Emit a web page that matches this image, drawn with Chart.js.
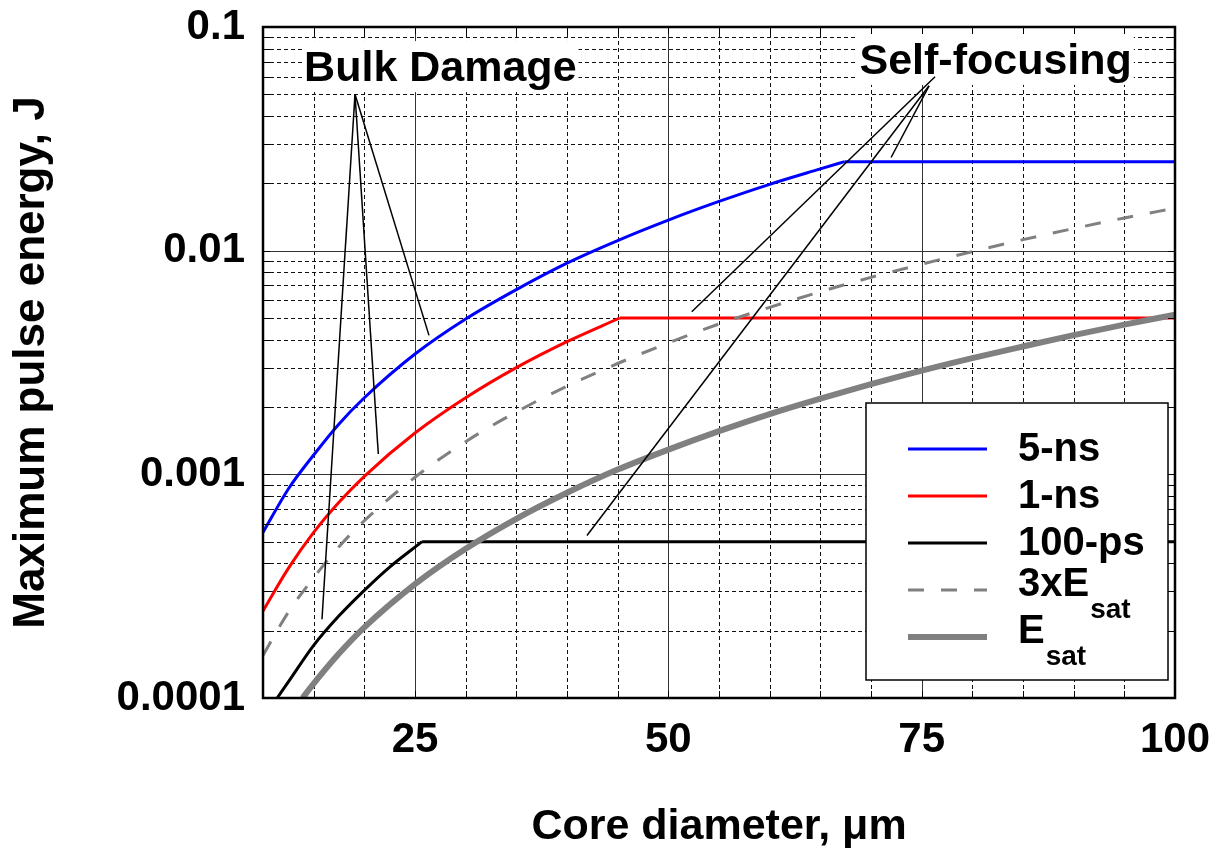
<!DOCTYPE html>
<html>
<head>
<meta charset="utf-8">
<script src="https://cdn.jsdelivr.net/npm/chart.js@4/dist/chart.umd.min.js"></script>
<style>
  html, body { margin: 0; padding: 0; background: #ffffff; }
  canvas { display: block; }
</style>
</head>
<body>
<canvas id="chart" width="1223" height="855"></canvas>
<script>
// ---- data: maximum pulse energy (J) versus core diameter (um) ----
// each limit rises with core size, then stays flat from its break point on
const diameter5ns     = [10, 12.5, 15, 17.5, 20, 25, 30, 35, 40, 45, 50, 55, 60, 65, 67.4];
const energy5ns       = [5.5e-4, 8.6e-4, 1.22e-3, 1.68e-3, 2.2e-3, 3.45e-3, 4.95e-3, 6.7e-3, 8.8e-3, 0.0111, 0.0137, 0.0166, 0.0198, 0.0232, 0.025];
const diameter5nsFlat = [67.4, 100];
const energy5nsFlat   = [0.025, 0.025];

const diameter1ns     = [10, 12.5, 15, 17.5, 20, 25, 30, 35, 40, 45.2];
const energy1ns       = [2.45e-4, 3.8e-4, 5.5e-4, 7.5e-4, 9.8e-4, 1.53e-3, 2.2e-3, 3.0e-3, 3.92e-3, 5.0e-3];
const diameter1nsFlat = [45.2, 100];
const energy1nsFlat   = [5.0e-3, 5.0e-3];

const diameter100ps     = [11.4, 12.5, 15, 17.5, 20, 22.5, 25.7];
const energy100ps       = [1.0e-4, 1.18e-4, 1.72e-4, 2.33e-4, 3.03e-4, 3.85e-4, 5.0e-4];
const diameter100psFlat = [25.7, 100];
const energy100psFlat   = [5.0e-4, 5.0e-4];

const diameter3xSat = [10, 12.5, 15, 17.5, 20, 25, 30, 35, 40, 45, 50, 55, 60, 65, 70, 75, 80, 85, 90, 95, 100];
const energy3xSat   = [1.55e-4, 2.42e-4, 3.45e-4, 4.75e-4, 6.2e-4, 9.7e-4, 1.4e-3, 1.9e-3, 2.48e-3, 3.13e-3, 3.87e-3, 4.7e-3, 5.58e-3, 6.55e-3, 7.6e-3, 8.7e-3, 9.9e-3, 0.0112, 0.01256, 0.0140, 0.0155];

const diameterSat = [13.9, 15, 17.5, 20, 25, 30, 35, 40, 45, 50, 55, 60, 65, 70, 75, 80, 85, 90, 95, 100];
const energySat   = [1.0e-4, 1.16e-4, 1.58e-4, 2.07e-4, 3.23e-4, 4.65e-4, 6.33e-4, 8.27e-4, 1.05e-3, 1.29e-3, 1.56e-3, 1.86e-3, 2.18e-3, 2.53e-3, 2.91e-3, 3.31e-3, 3.73e-3, 4.19e-3, 4.67e-3, 5.17e-3];

// series names; the saturation curves carry a subscript
const seriesNames = ['5-ns', '1-ns', '100-ps', '3xE', 'E'];
const seriesSubs  = ['', '', '', 'sat', 'sat'];

// axis ticks
const xTickValues = [25, 50, 75, 100];
const yTickValues = [1e-4, 1e-3, 1e-2, 1e-1];
const yTickLabels = ['0.0001', '0.001', '0.01', '0.1'];

// callouts: [diameter, energy] anchors
const bulkText   = 'Bulk Damage';
const bulkAnchor = [27.5, 0.0573];
const bulkLines  = [
  [19.08, 0.05, 15.82, 2.25e-4],
  [19.08, 0.05, 21.38, 1.233e-3],
  [19.08, 0.05, 26.38, 4.18e-3]
];
const selfText   = 'Self-focusing';
const selfAnchor = [82.3, 0.0617];
const selfLines  = [
  [76.32, 0.0599, 52.31, 5.33e-3],
  [75.73, 0.0546, 41.97, 5.33e-4],
  [75.73, 0.0546, 71.98, 0.0261]
];

const FONT = "'Liberation Sans', Arial, Helvetica, sans-serif";
const GREY = '#808080';

function points(xs, ys) { return xs.map((x, i) => ({ x: x, y: ys[i] })); }

// dashed minor / solid major grid, drawn under the curves
const gridPlugin = {
  id: 'paperGrid',
  beforeDatasetsDraw(chart) {
    const { ctx, chartArea: a, scales: { x, y } } = chart;
    ctx.save();
    ctx.beginPath();
    ctx.rect(a.left, a.top, a.right - a.left, a.bottom - a.top);
    ctx.clip();
    ctx.lineWidth = 1;
    for (let d = 15; d < 100; d += 5) {
      const px = Math.round(x.getPixelForValue(d)) + 0.5;
      const major = d % 25 === 0;
      ctx.setLineDash(major ? [] : [4, 3]);
      ctx.strokeStyle = major ? '#333' : '#111';
      ctx.beginPath(); ctx.moveTo(px, a.top); ctx.lineTo(px, a.bottom); ctx.stroke();
    }
    for (let e = -4; e <= -2; e++) {
      for (let m = 1; m <= 9; m++) {
        if (e === -4 && m === 1) continue;
        const v = m * Math.pow(10, e);
        const py = Math.round(y.getPixelForValue(v)) + 0.5;
        const major = m === 1;
        ctx.setLineDash(major ? [] : [4, 3]);
        ctx.strokeStyle = major ? '#333' : '#111';
        ctx.beginPath(); ctx.moveTo(a.left, py); ctx.lineTo(a.right, py); ctx.stroke();
      }
    }
    ctx.restore();
  }
};

// callouts, legend box, edge ticks and frame, drawn over the curves
const overlayPlugin = {
  id: 'overlay',
  afterDatasetsDraw(chart) {
    const { ctx, chartArea: a, scales: { x, y } } = chart;
    ctx.save();

    // callout labels on white patches
    function callout(text, anchor, lines) {
      const cx = x.getPixelForValue(anchor[0]);
      const base = y.getPixelForValue(anchor[1]);
      ctx.font = 'bold 43px ' + FONT;
      const w = ctx.measureText(text).width;
      ctx.fillStyle = '#ffffff';
      ctx.fillRect(cx - w / 2 - 2, base - 40, w + 4, 51);
      ctx.fillStyle = '#000000';
      ctx.textAlign = 'center';
      ctx.textBaseline = 'alphabetic';
      ctx.fillText(text, cx, base);
      ctx.strokeStyle = '#000000';
      ctx.lineWidth = 1.5;
      ctx.setLineDash([]);
      lines.forEach(l => {
        ctx.beginPath();
        ctx.moveTo(x.getPixelForValue(l[0]), y.getPixelForValue(l[1]));
        ctx.lineTo(x.getPixelForValue(l[2]), y.getPixelForValue(l[3]));
        ctx.stroke();
      });
    }
    callout(bulkText, bulkAnchor, bulkLines);
    callout(selfText, selfAnchor, selfLines);

    // legend box (one row per named series)
    const bx = a.right - 309, by = a.top + 376;
    const bw = 302, bh = (a.bottom - 18) - by;
    ctx.fillStyle = '#ffffff';
    ctx.fillRect(bx, by, bw, bh);
    ctx.strokeStyle = '#000000';
    ctx.lineWidth = 1.5;
    ctx.strokeRect(bx, by, bw, bh);
    const named = chart.data.datasets.filter(ds => !ds.continuation);
    named.forEach((ds, i) => {
      const rowY = by + 46 + i * 47;
      ctx.strokeStyle = ds.borderColor;
      ctx.lineWidth = ds.borderWidth;
      ctx.setLineDash(ds.borderDash || []);
      ctx.lineCap = 'butt';
      ctx.beginPath(); ctx.moveTo(bx + 42, rowY); ctx.lineTo(bx + 121, rowY); ctx.stroke();
      ctx.setLineDash([]);
      ctx.fillStyle = '#000000';
      ctx.textAlign = 'left';
      ctx.textBaseline = 'alphabetic';
      const sub = seriesSubs[i];
      const base = rowY + (sub ? 6 : 11.5);
      ctx.font = 'bold 40px ' + FONT;
      ctx.fillText(seriesNames[i], bx + 152, base);
      if (sub) {
        const w = ctx.measureText(seriesNames[i]).width;
        ctx.font = 'bold 28px ' + FONT;
        ctx.fillText(sub, bx + 152 + w + 1, base + 22);
      }
    });

    // inward tick marks on all four edges
    ctx.strokeStyle = '#000000';
    ctx.lineWidth = 1;
    ctx.setLineDash([]);
    const tl = 7;
    for (let d = 15; d < 100; d += 5) {
      const px = Math.round(x.getPixelForValue(d)) + 0.5;
      ctx.beginPath();
      ctx.moveTo(px, a.top); ctx.lineTo(px, a.top + tl);
      ctx.moveTo(px, a.bottom); ctx.lineTo(px, a.bottom - tl);
      ctx.stroke();
    }
    for (let e = -4; e <= -2; e++) {
      for (let m = 1; m <= 9; m++) {
        if (e === -4 && m === 1) continue;
        const py = Math.round(y.getPixelForValue(m * Math.pow(10, e))) + 0.5;
        ctx.beginPath();
        ctx.moveTo(a.left, py); ctx.lineTo(a.left + tl, py);
        ctx.moveTo(a.right, py); ctx.lineTo(a.right - tl, py);
        ctx.stroke();
      }
    }

    // plot frame
    ctx.lineWidth = 2.5;
    ctx.strokeRect(a.left, a.top, a.right - a.left, a.bottom - a.top);
    ctx.restore();
  }
};

const curve = { pointRadius: 0, fill: false, cubicInterpolationMode: 'monotone', clip: 0 };
const flat  = { pointRadius: 0, fill: false, tension: 0, clip: 0, continuation: true };

new Chart(document.getElementById('chart'), {
  type: 'line',
  data: {
    datasets: [
      Object.assign({ label: '5-ns', data: points(diameter5ns, energy5ns), borderColor: '#0000ff', borderWidth: 3, order: 4 }, curve),
      Object.assign({ label: '1-ns', data: points(diameter1ns, energy1ns), borderColor: '#ff0000', borderWidth: 3, order: 3 }, curve),
      Object.assign({ label: '100-ps', data: points(diameter100ps, energy100ps), borderColor: '#000000', borderWidth: 3, order: 2 }, curve),
      Object.assign({ label: '3xEsat', data: points(diameter3xSat, energy3xSat), borderColor: GREY, borderWidth: 3, borderDash: [16, 17], order: 1 }, curve),
      Object.assign({ label: 'Esat', data: points(diameterSat, energySat), borderColor: GREY, borderWidth: 6, order: 0 }, curve),
      Object.assign({ label: '5-ns', data: points(diameter5nsFlat, energy5nsFlat), borderColor: '#0000ff', borderWidth: 3, order: 4 }, flat),
      Object.assign({ label: '1-ns', data: points(diameter1nsFlat, energy1nsFlat), borderColor: '#ff0000', borderWidth: 3, order: 3 }, flat),
      Object.assign({ label: '100-ps', data: points(diameter100psFlat, energy100psFlat), borderColor: '#000000', borderWidth: 3, order: 2 }, flat)
    ]
  },
  options: {
    responsive: false,
    animation: false,
    devicePixelRatio: 1,
    layout: { padding: { top: 27, right: 48, bottom: 0, left: 0 } },
    plugins: { legend: { display: false }, tooltip: { enabled: false } },
    scales: {
      x: {
        type: 'linear',
        min: 10,
        max: 100,
        afterBuildTicks(scale) { scale.ticks = xTickValues.map(v => ({ value: v })); },
        afterFit(scale) { scale.height = 157; scale.paddingLeft = 0; scale.paddingRight = 0; },
        grid: { display: false, drawTicks: false },
        border: { display: false },
        ticks: {
          autoSkip: false, maxRotation: 0, padding: 17, color: '#000000',
          font: { family: FONT, size: 42, weight: 'bold' },
          callback: (v) => String(v)
        },
        title: {
          display: true, text: 'Core diameter, \u03bcm', color: '#000000',
          font: { family: FONT, size: 43, weight: 'bold', lineHeight: 1 },
          padding: { top: 0, bottom: 6 }
        }
      },
      y: {
        type: 'logarithmic',
        min: 1e-4,
        max: 0.1,
        afterBuildTicks(scale) { scale.ticks = yTickValues.map(v => ({ value: v })); },
        afterFit(scale) { scale.width = 263; scale.paddingTop = 0; scale.paddingBottom = 0; },
        grid: { display: false, drawTicks: false },
        border: { display: false },
        ticks: {
          autoSkip: false, padding: 18, color: '#000000',
          font: { family: FONT, size: 42, weight: 'bold' },
          callback: (v, i) => yTickLabels[i]
        },
        title: {
          display: true, text: 'Maximum pulse energy, J', color: '#000000',
          font: { family: FONT, size: 44, weight: 'bold', lineHeight: 1 },
          padding: { top: 10, bottom: 0 }
        }
      }
    }
  },
  plugins: [gridPlugin, overlayPlugin]
});
</script>
</body>
</html>
